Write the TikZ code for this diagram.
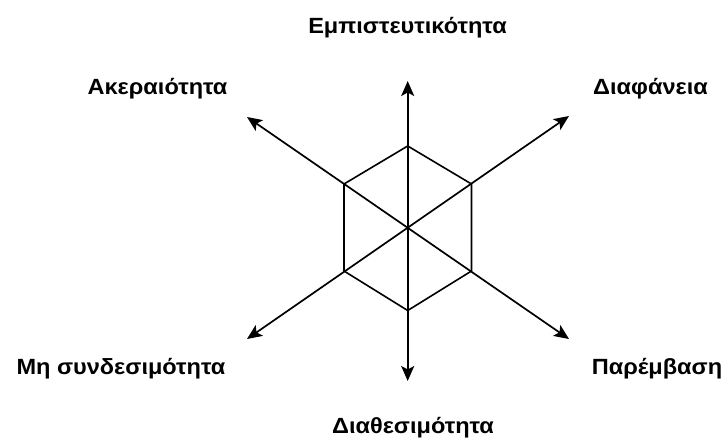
\documentclass[tikz,border=0pt]{standalone}
\usepackage{fontspec}
\setmainfont[FakeStretch=1.07]{Liberation Sans}
\usetikzlibrary{arrows.meta}
\begin{document}
\begin{tikzpicture}[x=1pt,y=-1pt,
  axis/.style={line width=1.7pt,{Stealth[length=15pt,width=13pt,inset=3.5pt]}-{Stealth[length=15pt,width=13pt,inset=3.5pt]}},
  hexline/.style={line width=1.6pt,line join=miter},
  lbl/.style={font=\fontsize{22}{26}\selectfont\bfseries,inner sep=0pt,anchor=base}]
\useasboundingbox (0,0) rectangle (726,437);
% axis tips
\coordinate (T) at (407.7,81);
\coordinate (B) at (407.7,381);
\coordinate (UR) at (569,116);
\coordinate (LL) at (247,339);
\coordinate (UL) at (247,117);
\coordinate (LR) at (569,339);
% hexagon vertices
\coordinate (h1) at (407.7,146);
\coordinate (h2) at (471.5,184);
\coordinate (h3) at (471.5,271);
\coordinate (h4) at (407.7,310.5);
\coordinate (h5) at (344,271);
\coordinate (h6) at (344,184);
\draw[hexline] (h1) -- (h2) -- (h3) -- (h4) -- (h5) -- (h6) -- cycle;
\draw[axis] (B) -- (T);
\draw[axis] (LL) -- (UR);
\draw[axis] (LR) -- (UL);
% labels
\node[lbl] (emp) at (407.5,33) {Εμπιστευτικότητα};
\node[lbl] (ake) at (157.5,94) {Ακεραιότητα};
\node[lbl] (dia) at (650.5,94) {Διαφάνεια};
\node[lbl] (mhs) at (121,374) {Μη συνδεσιμότητα};
\node[lbl] (par) at (657,374) {Παρέμβαση};
\node[lbl] (dth) at (413,433) {Διαθεσιμότητα};
\end{tikzpicture}
\end{document}
